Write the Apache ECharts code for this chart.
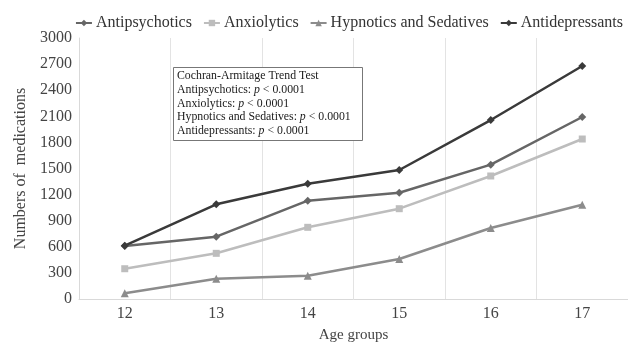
<!DOCTYPE html>
<html>
<head>
<meta charset="utf-8">
<script src="https://cdn.jsdelivr.net/npm/echarts@6/dist/echarts.min.js"></script>
<style>html,body{margin:0;padding:0;background:#fff;}#c{width:628px;height:345px;}</style>
</head>
<body>
<div id="c"></div>
<script>
const categories = ['12', '13', '14', '15', '16', '17'];
const antipsychotics = [610, 716, 1130, 1222, 1544, 2092];
const anxiolytics = [348, 525, 824, 1038, 1414, 1839];
const hypnotics = [66, 233, 268, 460, 816, 1084];
const antidepressants = [613, 1088, 1325, 1483, 2057, 2678];
const yTicks = [0, 300, 600, 900, 1200, 1500, 1800, 2100, 2400, 2700, 3000];

const font = 'Liberation Serif';
const chart = echarts.init(document.getElementById('c'));
function s(name, data, color, symbol, size) {
  return {
    name, type: 'line', data, symbol, symbolSize: size,
    lineStyle: { color, width: 2.5 }, itemStyle: { color },
    emphasis: { disabled: true }
  };
}
chart.setOption({
  animation: false,
  textStyle: { fontFamily: font },
  legend: {
    top: 10, right: 0, itemWidth: 16, itemHeight: 8, itemGap: 11,
    textStyle: { fontFamily: font, fontSize: 16, color: '#333', padding: [0, 0, 0, -1] },
    data: ['Antipsychotics', 'Anxiolytics', 'Hypnotics and Sedatives', 'Antidepressants']
  },
  grid: { left: 79, right: 0, top: 38, bottom: 46, containLabel: false, outerBoundsMode: 'none' },
  xAxis: {
    type: 'category', data: categories, boundaryGap: true,
    name: 'Age groups', nameLocation: 'middle', nameGap: 29,
    nameTextStyle: { fontFamily: font, fontSize: 15, color: '#444' },
    axisLine: { lineStyle: { color: '#d9d9d9', width: 1 } },
    axisTick: { show: false },
    axisLabel: { fontFamily: font, fontSize: 16, color: '#444', margin: 7 },
    splitLine: { show: true, lineStyle: { color: '#e3e3e3', width: 1 } }
  },
  yAxis: {
    type: 'value', min: 0, max: 3000, interval: 300,
    name: 'Numbers of  medications', nameLocation: 'middle', nameGap: 48,
    nameTextStyle: { fontFamily: font, fontSize: 16, color: '#444' },
    axisLine: { show: true, lineStyle: { color: '#d9d9d9', width: 1 } },
    axisTick: { show: false },
    splitLine: { show: false },
    axisLabel: { fontFamily: font, fontSize: 16, color: '#444', margin: 7,
      formatter: v => yTicks.includes(v) ? String(v) : '' }
  },
  series: [
    s('Antipsychotics', antipsychotics, '#666666', 'diamond', 8),
    s('Anxiolytics', anxiolytics, '#bdbdbd', 'rect', 7),
    s('Hypnotics and Sedatives', hypnotics, '#8c8c8c', 'triangle', 8),
    s('Antidepressants', antidepressants, '#3a3a3a', 'diamond', 8)
  ],
  graphic: [{
    type: 'rect', left: 173, top: 67, z: 10,
    shape: { width: 189, height: 73 },
    style: { fill: '#fff', stroke: '#777', lineWidth: 1 }
  }, {
    type: 'text', left: 177, top: 69, z: 11,
    style: {
      text: 'Cochran-Armitage Trend Test\nAntipsychotics: {i|p} < 0.0001\nAnxiolytics: {i|p} < 0.0001\nHypnotics and Sedatives: {i|p} < 0.0001\nAntidepressants: {i|p} < 0.0001',
      font: '11.8px "Liberation Serif"', fill: '#1a1a1a', lineHeight: 13.8,
      rich: { i: { fontStyle: 'italic', fontFamily: font, fontSize: 11.8, fill: '#1a1a1a', lineHeight: 13.8 } }
    }
  }]
});
</script>
</body>
</html>
